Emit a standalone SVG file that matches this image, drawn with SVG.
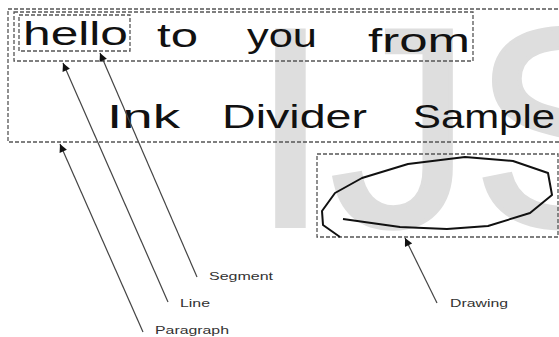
<svg xmlns="http://www.w3.org/2000/svg" width="559" height="337" viewBox="0 0 559 337">
<style>
.box{fill:none;stroke:#555;stroke-width:1.3;stroke-dasharray:4 2}
.ink{font-family:"Liberation Sans",Arial,sans-serif;font-size:33px;fill:#111}
.lbl{font-family:"Liberation Sans",Arial,sans-serif;font-size:11.5px;fill:#333}
.arr{stroke:#444;stroke-width:1.2;fill:none;marker-end:url(#ah)}
</style>
<defs>
<marker id="ah" viewBox="0 0 10 10" refX="10" refY="5" markerWidth="10" markerHeight="8" markerUnits="userSpaceOnUse" orient="auto">
<path d="M0,0 L10,5 L0,10 z" fill="#111"/>
</marker>
</defs>
<rect width="559" height="337" fill="#fff"/>
<text x="251" y="226" font-family="Liberation Sans,Arial,sans-serif" font-size="284" fill="#dedede" stroke="#dedede" stroke-width="4">IJS</text>

<g id="paragraph">
<rect class="box" x="8" y="9" width="560" height="133"/>
</g>
<g id="line">
<rect class="box" x="14" y="12" width="459" height="49"/>
<text class="ink" x="157" y="47" textLength="41" lengthAdjust="spacingAndGlyphs">to</text>
<text class="ink" x="247" y="47" textLength="70" lengthAdjust="spacingAndGlyphs">you</text>
<text class="ink" x="368" y="52" textLength="102" lengthAdjust="spacingAndGlyphs">from</text>
</g>
<g id="segment">
<rect class="box" x="19" y="15" width="111" height="36"/>
<text class="ink" x="23" y="45" textLength="105" lengthAdjust="spacingAndGlyphs">hello</text>
</g>
<g id="line2">
<text class="ink" x="107" y="128" textLength="73" lengthAdjust="spacingAndGlyphs">Ink</text>
<text class="ink" x="222" y="128" textLength="145" lengthAdjust="spacingAndGlyphs">Divider</text>
<text class="ink" x="413" y="128" textLength="142" lengthAdjust="spacingAndGlyphs">Sample</text>
</g>
<g id="drawing">
<rect class="box" x="317" y="154" width="241" height="83"/>
<polyline fill="none" stroke="#111" stroke-width="2" stroke-linejoin="round" points="340,237 323,225 322,211 335,193 362,178 408,164 465,157 513,161 548,173 552,195 530,213 488,226 447,229 400,227 343,219"/>
</g>

<g id="connectors">
<line class="arr" x1="197" y1="277" x2="100" y2="53"/>
<line class="arr" x1="168" y1="302" x2="63" y2="63"/>
<line class="arr" x1="143" y1="332" x2="60" y2="144"/>
<line class="arr" x1="437" y1="303" x2="405" y2="238"/>
</g>

<g id="labels">
<text class="lbl" x="209" y="280" textLength="64" lengthAdjust="spacingAndGlyphs">Segment</text>
<text class="lbl" x="180" y="306.5" textLength="30" lengthAdjust="spacingAndGlyphs">Line</text>
<text class="lbl" x="155" y="334" textLength="74" lengthAdjust="spacingAndGlyphs">Paragraph</text>
<text class="lbl" x="450" y="306.5" textLength="58" lengthAdjust="spacingAndGlyphs">Drawing</text>
</g>
</svg>
